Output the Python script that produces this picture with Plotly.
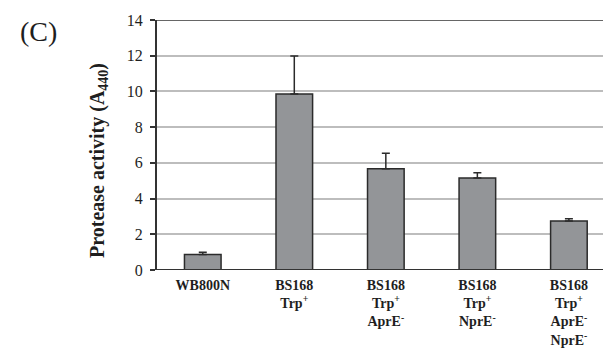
import plotly.graph_objects as go

categories = ["WB800N", "BS168 Trp+", "BS168 Trp+ AprE-", "BS168 Trp+ NprE-", "BS168 Trp+ AprE- NprE-"]
tick_labels = [
    "<b>WB800N</b>",
    "<b>BS168<br>Trp<sup>+</sup></b>",
    "<b>BS168<br>Trp<sup>+</sup><br>AprE<sup>-</sup></b>",
    "<b>BS168<br>Trp<sup>+</sup><br>NprE<sup>-</sup></b>",
    "<b>BS168<br>Trp<sup>+</sup><br>AprE<sup>-</sup><br>NprE<sup>-</sup></b>",
]
activity = [0.87, 9.85, 5.67, 5.15, 2.75]
error_up = [0.12, 2.13, 0.87, 0.30, 0.12]
y_ticks = [0, 2, 4, 6, 8, 10, 12, 14]

x_pos = list(range(len(categories)))

font_family = "Liberation Serif"
dark = "#333333"
txt = "#1e1e1e"

fig = go.Figure()
fig.add_trace(go.Bar(
    x=x_pos,
    y=activity,
    width=0.4,
    marker=dict(color="#939598", line=dict(color="#2b2b2b", width=1.5)),
    error_y=dict(type="data", array=error_up, arrayminus=[0] * len(error_up),
                 symmetric=False, color="#2b2b2b", thickness=1.5, width=4),
    showlegend=False,
))

fig.update_layout(
    width=603, height=341,
    margin=dict(l=149, r=0, t=12, b=79, autoexpand=False),
    paper_bgcolor="white", plot_bgcolor="white",
    font=dict(family=font_family, color=txt),
    xaxis=dict(
        range=[-0.5, 4.46],
        tickmode="array", tickvals=x_pos, ticktext=tick_labels,
        tickfont=dict(size=14, family=font_family, color=txt),
        showgrid=False, showline=False, zeroline=False,
        ticks="", ticklen=0, automargin=False, ticklabelstandoff=5,
    ),
    yaxis=dict(
        range=[0, 14],
        tickmode="array", tickvals=y_ticks,
        tickfont=dict(size=16, family=font_family, color=txt),
        showgrid=True, gridcolor="#bdbdbd", gridwidth=1.5,
        showline=True, linecolor=dark, linewidth=2,
        zeroline=False, automargin=False,
        ticks="outside", ticklen=5, tickcolor=dark, tickwidth=1.5,
        ticklabelstandoff=4,
    ),
    shapes=[
        dict(type="line", xref="paper", yref="y", x0=0, x1=1, y0=0, y1=0,
             line=dict(color=dark, width=2)),
        dict(type="line", xref="paper", yref="y", x0=0, x1=1, y0=14, y1=14,
             line=dict(color=dark, width=1.5)),
    ],
    annotations=[
        dict(text="(C)", xref="paper", yref="paper", x=-149/454, y=1 + 12/250,
             xanchor="left", yanchor="top", showarrow=False, xshift=10, yshift=-6,
             font=dict(size=28, family=font_family, color=txt)),
        dict(text="<b>Protease activity (A<sub>440</sub>)</b>", textangle=-90,
             xref="paper", yref="paper", x=-0.13, y=0.44,
             xanchor="center", yanchor="middle", showarrow=False,
             font=dict(size=20, family=font_family, color=txt)),
    ],
)

fig.write_html("out.html")
